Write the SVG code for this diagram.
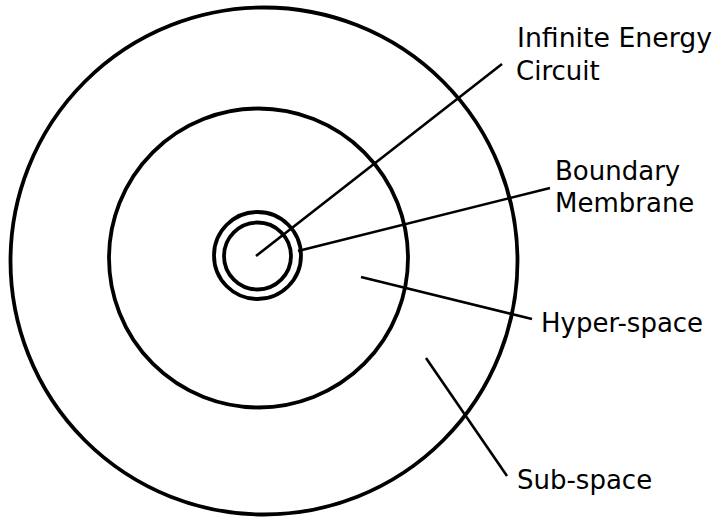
<svg xmlns="http://www.w3.org/2000/svg" width="717" height="520" viewBox="0 0 717 520">
<style>
.ring{fill:none;stroke:#000;stroke-width:3.8}
.lead{stroke:#000;stroke-width:2.6;stroke-linecap:butt;fill:none}
.lbl{font-family:"DejaVu Sans",sans-serif;font-size:26px;fill:#000}
</style>
<rect width="717" height="520" fill="#fff"/>
<g id="sub-space"><circle class="ring" cx="264" cy="261" r="253.5" stroke-width="4"/></g>
<g id="hyper-space"><circle class="ring" cx="258.5" cy="258" r="149.5" stroke-width="3.6"/></g>
<g id="boundary-membrane"><circle class="ring" cx="257.5" cy="255.5" r="43.5" stroke-width="3.6"/></g>
<g id="infinite-energy-circuit"><circle class="ring" cx="257.5" cy="256" r="33.5" stroke-width="3.6"/></g>
<g id="connectors">
<line class="lead" x1="256" y1="256" x2="502" y2="64"/>
<line class="lead" x1="298" y1="251" x2="550" y2="188"/>
<line class="lead" x1="361" y1="277" x2="532" y2="319"/>
<line class="lead" x1="426" y1="358" x2="507" y2="476"/>
</g>
<g id="labels">
<text class="lbl" x="517" y="47" textLength="195" lengthAdjust="spacingAndGlyphs">Infinite Energy</text>
<text class="lbl" x="516" y="80">Circuit</text>
<text class="lbl" x="555" y="179.5">Boundary</text>
<text class="lbl" x="555" y="212">Membrane</text>
<text class="lbl" x="541" y="331.5">Hyper-space</text>
<text class="lbl" x="517" y="488.5">Sub-space</text>
</g>
</svg>
